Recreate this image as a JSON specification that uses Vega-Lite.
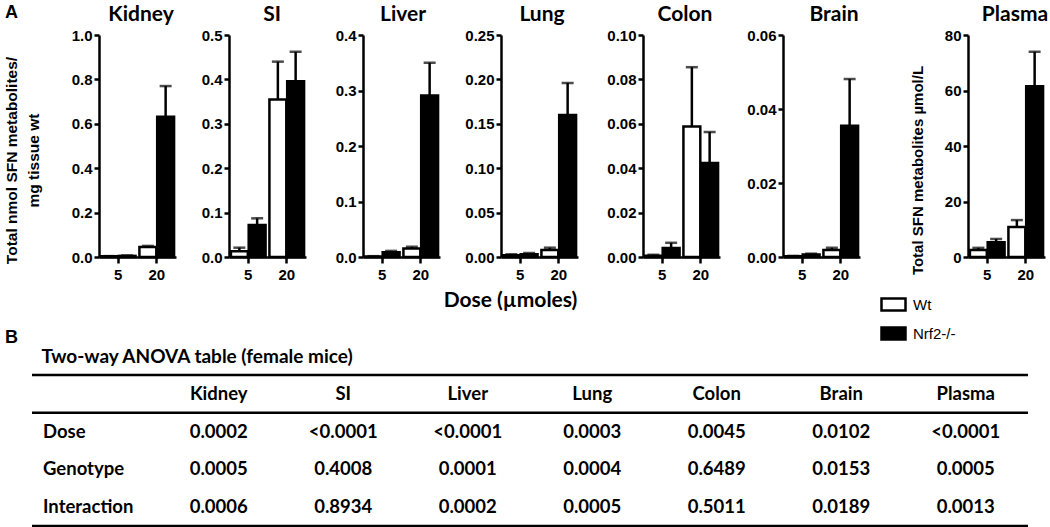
{
  "$schema": "https://vega.github.io/schema/vega-lite/v6.json",
  "background": "white",
  "padding": {"left": 4, "top": 4, "right": 0, "bottom": 0},
  "config": {
    "view": {"stroke": null},
    "axis": {"domainColor": "black", "domainWidth": 2.5, "tickColor": "black", "tickWidth": 2.5, "tickSize": 5, "labelColor": "black", "labelFont": "Liberation Sans", "labelFontWeight": "bold", "labelFontSize": 15, "labelPadding": 2, "grid": false, "titleColor": "black"},
    "title": {"font": "Lato", "fontWeight": "bold", "fontSize": 21, "color": "black"}
  },
  "datasets": {
    "bars": [
      {"organ": "Kidney", "dose": "5", "genotype": "Wt", "mean": 0.003, "hi": 0.004},
      {"organ": "Kidney", "dose": "5", "genotype": "Nrf2-/-", "mean": 0.005, "hi": 0.007},
      {"organ": "Kidney", "dose": "20", "genotype": "Wt", "mean": 0.045, "hi": 0.05},
      {"organ": "Kidney", "dose": "20", "genotype": "Nrf2-/-", "mean": 0.632, "hi": 0.77},
      {"organ": "SI", "dose": "5", "genotype": "Wt", "mean": 0.013, "hi": 0.021},
      {"organ": "SI", "dose": "5", "genotype": "Nrf2-/-", "mean": 0.072, "hi": 0.087},
      {"organ": "SI", "dose": "20", "genotype": "Wt", "mean": 0.355, "hi": 0.44},
      {"organ": "SI", "dose": "20", "genotype": "Nrf2-/-", "mean": 0.396, "hi": 0.462},
      {"organ": "Liver", "dose": "5", "genotype": "Wt", "mean": 0.001, "hi": 0.0015},
      {"organ": "Liver", "dose": "5", "genotype": "Nrf2-/-", "mean": 0.0085, "hi": 0.011},
      {"organ": "Liver", "dose": "20", "genotype": "Wt", "mean": 0.0155, "hi": 0.0185},
      {"organ": "Liver", "dose": "20", "genotype": "Nrf2-/-", "mean": 0.291, "hi": 0.35},
      {"organ": "Lung", "dose": "5", "genotype": "Wt", "mean": 0.002, "hi": 0.003},
      {"organ": "Lung", "dose": "5", "genotype": "Nrf2-/-", "mean": 0.003, "hi": 0.0045},
      {"organ": "Lung", "dose": "20", "genotype": "Wt", "mean": 0.008, "hi": 0.0105},
      {"organ": "Lung", "dose": "20", "genotype": "Nrf2-/-", "mean": 0.16, "hi": 0.196},
      {"organ": "Colon", "dose": "5", "genotype": "Wt", "mean": 0.0006, "hi": 0.001},
      {"organ": "Colon", "dose": "5", "genotype": "Nrf2-/-", "mean": 0.004, "hi": 0.0064},
      {"organ": "Colon", "dose": "20", "genotype": "Wt", "mean": 0.0588, "hi": 0.0855},
      {"organ": "Colon", "dose": "20", "genotype": "Nrf2-/-", "mean": 0.0423, "hi": 0.0563},
      {"organ": "Brain", "dose": "5", "genotype": "Wt", "mean": 0.0002, "hi": 0.0003},
      {"organ": "Brain", "dose": "5", "genotype": "Nrf2-/-", "mean": 0.0007, "hi": 0.0009},
      {"organ": "Brain", "dose": "20", "genotype": "Wt", "mean": 0.0019, "hi": 0.0025},
      {"organ": "Brain", "dose": "20", "genotype": "Nrf2-/-", "mean": 0.0355, "hi": 0.0481},
      {"organ": "Plasma", "dose": "5", "genotype": "Wt", "mean": 2.5, "hi": 3.3},
      {"organ": "Plasma", "dose": "5", "genotype": "Nrf2-/-", "mean": 5.3, "hi": 6.5},
      {"organ": "Plasma", "dose": "20", "genotype": "Wt", "mean": 10.8, "hi": 13.3},
      {"organ": "Plasma", "dose": "20", "genotype": "Nrf2-/-", "mean": 61.5, "hi": 74}
    ],
    "table": [
      {"row": "header", "col": "Kidney", "text": "Kidney"},
      {"row": "header", "col": "SI", "text": "SI"},
      {"row": "header", "col": "Liver", "text": "Liver"},
      {"row": "header", "col": "Lung", "text": "Lung"},
      {"row": "header", "col": "Colon", "text": "Colon"},
      {"row": "header", "col": "Brain", "text": "Brain"},
      {"row": "header", "col": "Plasma", "text": "Plasma"},
      {"row": "Dose", "col": "label", "text": "Dose"},
      {"row": "Dose", "col": "Kidney", "text": "0.0002"},
      {"row": "Dose", "col": "SI", "text": "<0.0001"},
      {"row": "Dose", "col": "Liver", "text": "<0.0001"},
      {"row": "Dose", "col": "Lung", "text": "0.0003"},
      {"row": "Dose", "col": "Colon", "text": "0.0045"},
      {"row": "Dose", "col": "Brain", "text": "0.0102"},
      {"row": "Dose", "col": "Plasma", "text": "<0.0001"},
      {"row": "Genotype", "col": "label", "text": "Genotype"},
      {"row": "Genotype", "col": "Kidney", "text": "0.0005"},
      {"row": "Genotype", "col": "SI", "text": "0.4008"},
      {"row": "Genotype", "col": "Liver", "text": "0.0001"},
      {"row": "Genotype", "col": "Lung", "text": "0.0004"},
      {"row": "Genotype", "col": "Colon", "text": "0.6489"},
      {"row": "Genotype", "col": "Brain", "text": "0.0153"},
      {"row": "Genotype", "col": "Plasma", "text": "0.0005"},
      {"row": "Interaction", "col": "label", "text": "Interaction"},
      {"row": "Interaction", "col": "Kidney", "text": "0.0006"},
      {"row": "Interaction", "col": "SI", "text": "0.8934"},
      {"row": "Interaction", "col": "Liver", "text": "0.0002"},
      {"row": "Interaction", "col": "Lung", "text": "0.0005"},
      {"row": "Interaction", "col": "Colon", "text": "0.5011"},
      {"row": "Interaction", "col": "Brain", "text": "0.0189"},
      {"row": "Interaction", "col": "Plasma", "text": "0.0013"}
    ]
  },
  "spacing": 340,
  "bounds": "flush",
  "vconcat": [
    {
      "spacing": 0,
      "bounds": "flush",
      "resolve": {"scale": {"fill": "independent"}, "legend": {"fill": "independent"}},
      "hconcat": [
        {
          "width": 67, "height": 222,
          "title": {"text": "A", "anchor": "start", "frame": "group", "dx": -27, "font": "Liberation Sans", "fontSize": 18, "baseline": "alphabetic", "offset": -1},
          "data": {"values": [{}]},
          "mark": {"type": "point", "opacity": 0},
          "encoding": {}
        },
        {
          "width": 130, "height": 222,
          "title": {"text": "Kidney", "anchor": "start", "align": "center", "frame": "group", "dx": 42, "baseline": "alphabetic", "offset": -14},
          "data": {"name": "bars"},
          "transform": [{"filter": "datum.organ === 'Kidney'"}],
          "encoding": {
            "x": {"field": "dose", "type": "ordinal", "sort": ["5", "20"], "scale": {"range": [0, 77], "paddingInner": 0.1, "paddingOuter": 0.05}, "axis": {"title": null, "labelAngle": 0, "tickSize": 6, "labelPadding": 4}},
            "xOffset": {"field": "genotype", "sort": ["Wt", "Nrf2-/-"], "scale": {"paddingInner": 0.05}}
          },
          "layer": [
            {"mark": {"type": "rule", "strokeWidth": 2.5, "color": "black"},
             "encoding": {"y": {"field": "mean", "type": "quantitative", "scale": {"domain": [0, 1], "nice": false}, "axis": {"values": [0, 0.2, 0.4, 0.6, 0.8, 1], "format": ".1f", "title": ["Total nmol SFN metabolites/", "mg tissue wt"], "titleFont": "Liberation Sans", "titleFontSize": 15.5, "titleFontWeight": "bold", "titleLineHeight": 22, "titlePadding": 30, "titleY": 125}}, "y2": {"field": "hi"}}},
            {"mark": {"type": "tick", "orient": "horizontal", "size": 12, "thickness": 2.5, "color": "black"},
             "encoding": {"y": {"field": "hi", "type": "quantitative", "axis": {"values": [0, 0.2, 0.4, 0.6, 0.8, 1], "format": ".1f", "title": ["Total nmol SFN metabolites/", "mg tissue wt"], "titleFont": "Liberation Sans", "titleFontSize": 15.5, "titleFontWeight": "bold", "titleLineHeight": 22, "titlePadding": 30, "titleY": 125}}}},
            {"mark": {"type": "bar", "stroke": "black", "strokeWidth": 2.5},
             "encoding": {"y": {"field": "mean", "type": "quantitative", "axis": {"values": [0, 0.2, 0.4, 0.6, 0.8, 1], "format": ".1f", "title": ["Total nmol SFN metabolites/", "mg tissue wt"], "titleFont": "Liberation Sans", "titleFontSize": 15.5, "titleFontWeight": "bold", "titleLineHeight": 22, "titlePadding": 30, "titleY": 125}},
               "fill": {"field": "genotype", "type": "nominal", "scale": {"domain": ["Wt", "Nrf2-/-"], "range": ["white", "black"]}, "legend": null}}}
          ]
        },
        {
          "width": 134, "height": 222,
          "title": {"text": "SI", "anchor": "start", "align": "center", "frame": "group", "dx": 43, "baseline": "alphabetic", "offset": -14},
          "data": {"name": "bars"},
          "transform": [{"filter": "datum.organ === 'SI'"}],
          "encoding": {
            "x": {"field": "dose", "type": "ordinal", "sort": ["5", "20"], "scale": {"range": [0, 77], "paddingInner": 0.1, "paddingOuter": 0.05}, "axis": {"title": null, "labelAngle": 0, "tickSize": 6, "labelPadding": 4}},
            "xOffset": {"field": "genotype", "sort": ["Wt", "Nrf2-/-"], "scale": {"paddingInner": 0.05}}
          },
          "layer": [
            {"mark": {"type": "rule", "strokeWidth": 2.5, "color": "black"},
             "encoding": {"y": {"field": "mean", "type": "quantitative", "scale": {"domain": [0, 0.5], "nice": false}, "axis": {"values": [0, 0.1, 0.2, 0.3, 0.4, 0.5], "format": ".1f", "title": null}}, "y2": {"field": "hi"}}},
            {"mark": {"type": "tick", "orient": "horizontal", "size": 12, "thickness": 2.5, "color": "black"},
             "encoding": {"y": {"field": "hi", "type": "quantitative", "axis": {"values": [0, 0.1, 0.2, 0.3, 0.4, 0.5], "format": ".1f", "title": null}}}},
            {"mark": {"type": "bar", "stroke": "black", "strokeWidth": 2.5},
             "encoding": {"y": {"field": "mean", "type": "quantitative", "axis": {"values": [0, 0.1, 0.2, 0.3, 0.4, 0.5], "format": ".1f", "title": null}},
               "fill": {"field": "genotype", "type": "nominal", "scale": {"domain": ["Wt", "Nrf2-/-"], "range": ["white", "black"]}, "legend": null}}}
          ]
        },
        {
          "width": 138, "height": 222,
          "title": {"text": "Liver", "anchor": "start", "align": "center", "frame": "group", "dx": 40, "baseline": "alphabetic", "offset": -14},
          "data": {"name": "bars"},
          "transform": [{"filter": "datum.organ === 'Liver'"}],
          "encoding": {
            "x": {"field": "dose", "type": "ordinal", "sort": ["5", "20"], "scale": {"range": [0, 77], "paddingInner": 0.1, "paddingOuter": 0.05}, "axis": {"title": null, "labelAngle": 0, "tickSize": 6, "labelPadding": 4}},
            "xOffset": {"field": "genotype", "sort": ["Wt", "Nrf2-/-"], "scale": {"paddingInner": 0.05}}
          },
          "layer": [
            {"mark": {"type": "rule", "strokeWidth": 2.5, "color": "black"},
             "encoding": {"y": {"field": "mean", "type": "quantitative", "scale": {"domain": [0, 0.4], "nice": false}, "axis": {"values": [0, 0.1, 0.2, 0.3, 0.4], "format": ".1f", "title": null}}, "y2": {"field": "hi"}}},
            {"mark": {"type": "tick", "orient": "horizontal", "size": 12, "thickness": 2.5, "color": "black"},
             "encoding": {"y": {"field": "hi", "type": "quantitative", "axis": {"values": [0, 0.1, 0.2, 0.3, 0.4], "format": ".1f", "title": null}}}},
            {"mark": {"type": "bar", "stroke": "black", "strokeWidth": 2.5},
             "encoding": {"y": {"field": "mean", "type": "quantitative", "axis": {"values": [0, 0.1, 0.2, 0.3, 0.4], "format": ".1f", "title": null}},
               "fill": {"field": "genotype", "type": "nominal", "scale": {"domain": ["Wt", "Nrf2-/-"], "range": ["white", "black"]}, "legend": null}}}
          ]
        },
        {
          "width": 142, "height": 222,
          "title": {"text": "Lung", "anchor": "start", "align": "center", "frame": "group", "dx": 41, "baseline": "alphabetic", "offset": -14},
          "data": {"name": "bars"},
          "transform": [{"filter": "datum.organ === 'Lung'"}],
          "encoding": {
            "x": {"field": "dose", "type": "ordinal", "sort": ["5", "20"], "scale": {"range": [0, 77], "paddingInner": 0.1, "paddingOuter": 0.05}, "axis": {"title": "Dose (\u00b5moles)", "titleFont": "Lato", "titleFontSize": 21, "titleFontWeight": "bold", "titleX": 9, "titleY": 43, "titleBaseline": "middle", "titleAlign": "center", "labelAngle": 0, "tickSize": 6, "labelPadding": 4}},
            "xOffset": {"field": "genotype", "sort": ["Wt", "Nrf2-/-"], "scale": {"paddingInner": 0.05}}
          },
          "layer": [
            {"mark": {"type": "rule", "strokeWidth": 2.5, "color": "black"},
             "encoding": {"y": {"field": "mean", "type": "quantitative", "scale": {"domain": [0, 0.25], "nice": false}, "axis": {"values": [0, 0.05, 0.1, 0.15, 0.2, 0.25], "format": ".2f", "title": null}}, "y2": {"field": "hi"}}},
            {"mark": {"type": "tick", "orient": "horizontal", "size": 12, "thickness": 2.5, "color": "black"},
             "encoding": {"y": {"field": "hi", "type": "quantitative", "axis": {"values": [0, 0.05, 0.1, 0.15, 0.2, 0.25], "format": ".2f", "title": null}}}},
            {"mark": {"type": "bar", "stroke": "black", "strokeWidth": 2.5},
             "encoding": {"y": {"field": "mean", "type": "quantitative", "axis": {"values": [0, 0.05, 0.1, 0.15, 0.2, 0.25], "format": ".2f", "title": null}},
               "fill": {"field": "genotype", "type": "nominal", "scale": {"domain": ["Wt", "Nrf2-/-"], "range": ["white", "black"]}, "legend": null}}}
          ]
        },
        {
          "width": 140, "height": 222,
          "title": {"text": "Colon", "anchor": "start", "align": "center", "frame": "group", "dx": 42, "baseline": "alphabetic", "offset": -14},
          "data": {"name": "bars"},
          "transform": [{"filter": "datum.organ === 'Colon'"}],
          "encoding": {
            "x": {"field": "dose", "type": "ordinal", "sort": ["5", "20"], "scale": {"range": [0, 77], "paddingInner": 0.1, "paddingOuter": 0.05}, "axis": {"title": null, "labelAngle": 0, "tickSize": 6, "labelPadding": 4}},
            "xOffset": {"field": "genotype", "sort": ["Wt", "Nrf2-/-"], "scale": {"paddingInner": 0.05}}
          },
          "layer": [
            {"mark": {"type": "rule", "strokeWidth": 2.5, "color": "black"},
             "encoding": {"y": {"field": "mean", "type": "quantitative", "scale": {"domain": [0, 0.1], "nice": false}, "axis": {"values": [0, 0.02, 0.04, 0.06, 0.08, 0.1], "format": ".2f", "title": null}}, "y2": {"field": "hi"}}},
            {"mark": {"type": "tick", "orient": "horizontal", "size": 12, "thickness": 2.5, "color": "black"},
             "encoding": {"y": {"field": "hi", "type": "quantitative", "axis": {"values": [0, 0.02, 0.04, 0.06, 0.08, 0.1], "format": ".2f", "title": null}}}},
            {"mark": {"type": "bar", "stroke": "black", "strokeWidth": 2.5},
             "encoding": {"y": {"field": "mean", "type": "quantitative", "axis": {"values": [0, 0.02, 0.04, 0.06, 0.08, 0.1], "format": ".2f", "title": null}},
               "fill": {"field": "genotype", "type": "nominal", "scale": {"domain": ["Wt", "Nrf2-/-"], "range": ["white", "black"]}, "legend": null}}}
          ]
        },
        {
          "width": 185, "height": 222,
          "title": {"text": "Brain", "anchor": "start", "align": "center", "frame": "group", "dx": 51, "baseline": "alphabetic", "offset": -14},
          "data": {"name": "bars"},
          "transform": [{"filter": "datum.organ === 'Brain'"}],
          "encoding": {
            "x": {"field": "dose", "type": "ordinal", "sort": ["5", "20"], "scale": {"range": [0, 77], "paddingInner": 0.1, "paddingOuter": 0.05}, "axis": {"title": null, "labelAngle": 0, "tickSize": 6, "labelPadding": 4}},
            "xOffset": {"field": "genotype", "sort": ["Wt", "Nrf2-/-"], "scale": {"paddingInner": 0.05}}
          },
          "layer": [
            {"mark": {"type": "rule", "strokeWidth": 2.5, "color": "black"},
             "encoding": {"y": {"field": "mean", "type": "quantitative", "scale": {"domain": [0, 0.06], "nice": false}, "axis": {"values": [0, 0.02, 0.04, 0.06], "format": ".2f", "title": null}}, "y2": {"field": "hi"}}},
            {"mark": {"type": "tick", "orient": "horizontal", "size": 12, "thickness": 2.5, "color": "black"},
             "encoding": {"y": {"field": "hi", "type": "quantitative", "axis": {"values": [0, 0.02, 0.04, 0.06], "format": ".2f", "title": null}}}},
            {"mark": {"type": "bar", "stroke": "black", "strokeWidth": 2.5},
             "encoding": {"y": {"field": "mean", "type": "quantitative", "axis": {"values": [0, 0.02, 0.04, 0.06], "format": ".2f", "title": null}},
               "fill": {"field": "genotype", "type": "nominal", "scale": {"domain": ["Wt", "Nrf2-/-"], "range": ["white", "black"]}, "legend": null}}}
          ]
        },
        {
          "width": 83, "height": 222,
          "title": {"text": "Plasma", "anchor": "start", "align": "center", "frame": "group", "dx": 47, "baseline": "alphabetic", "offset": -14},
          "data": {"name": "bars"},
          "transform": [{"filter": "datum.organ === 'Plasma'"}],
          "encoding": {
            "x": {"field": "dose", "type": "ordinal", "sort": ["5", "20"], "scale": {"range": [0, 77], "paddingInner": 0.1, "paddingOuter": 0.05}, "axis": {"title": null, "labelAngle": 0, "tickSize": 6, "labelPadding": 4}},
            "xOffset": {"field": "genotype", "sort": ["Wt", "Nrf2-/-"], "scale": {"paddingInner": 0.05}}
          },
          "layer": [
            {"mark": {"type": "rule", "strokeWidth": 2.5, "color": "black"},
             "encoding": {"y": {"field": "mean", "type": "quantitative", "scale": {"domain": [0, 80], "nice": false}, "axis": {"values": [0, 20, 40, 60, 80], "format": "d", "title": "Total SFN metabolites \u00b5mol/L", "titleFont": "Liberation Sans", "titleFontSize": 15, "titleFontWeight": "bold", "titlePadding": 19, "titleY": 135}}, "y2": {"field": "hi"}}},
            {"mark": {"type": "tick", "orient": "horizontal", "size": 12, "thickness": 2.5, "color": "black"},
             "encoding": {"y": {"field": "hi", "type": "quantitative", "axis": {"values": [0, 20, 40, 60, 80], "format": "d", "title": "Total SFN metabolites \u00b5mol/L", "titleFont": "Liberation Sans", "titleFontSize": 15, "titleFontWeight": "bold", "titlePadding": 19, "titleY": 135}}}},
            {"mark": {"type": "bar", "stroke": "black", "strokeWidth": 2.5},
             "encoding": {"y": {"field": "mean", "type": "quantitative", "axis": {"values": [0, 20, 40, 60, 80], "format": "d", "title": "Total SFN metabolites \u00b5mol/L", "titleFont": "Liberation Sans", "titleFontSize": 15, "titleFontWeight": "bold", "titlePadding": 19, "titleY": 135}},
               "fill": {"field": "genotype", "type": "nominal", "scale": {"domain": ["Wt", "Nrf2-/-"], "range": ["white", "black"]},
                 "legend": {"orient": "none", "legendX": -88, "legendY": 256, "title": null, "padding": 0, "symbolType": "M-1,-0.5H1V0.5H-1Z", "symbolSize": 576, "symbolStrokeColor": "black", "symbolStrokeWidth": 2.5, "labelFont": "Liberation Sans", "labelFontSize": 15, "labelColor": "black", "labelOffset": 6, "rowPadding": 4}}}}
          ]
        }
      ]
    },
    {
      "width": 996, "height": 151,
      "title": {"text": "B", "anchor": "start", "frame": "group", "dx": -27, "font": "Liberation Sans", "fontSize": 18, "baseline": "alphabetic", "offset": -14},
      "layer": [
        {
          "data": {"values": [{"row": "header"}, {"row": "Dose"}]},
          "mark": {"type": "rule", "strokeWidth": 2.5, "color": "black"},
          "encoding": {"y": {"field": "row", "type": "ordinal", "bandPosition": 0, "scale": {"type": "band", "domain": ["header", "Dose", "Genotype", "Interaction"], "paddingInner": 0, "paddingOuter": 0}, "axis": null}}
        },
        {
          "data": {"values": [{"row": "Interaction"}]},
          "mark": {"type": "rule", "strokeWidth": 2.5, "color": "black"},
          "encoding": {"y": {"field": "row", "type": "ordinal", "bandPosition": 1, "scale": {"type": "band", "domain": ["header", "Dose", "Genotype", "Interaction"], "paddingInner": 0, "paddingOuter": 0}, "axis": null}}
        },
        {
          "data": {"name": "table"},
          "transform": [{"filter": "datum.col === 'label'"}],
          "mark": {"type": "text", "align": "left", "baseline": "middle", "dx": 11, "font": "Lato", "fontWeight": "bold", "fontSize": 18.5, "color": "black"},
          "encoding": {
            "x": {"field": "col", "type": "ordinal", "bandPosition": 0, "scale": {"type": "band", "domain": ["label", "Kidney", "SI", "Liver", "Lung", "Colon", "Brain", "Plasma"], "paddingInner": 0, "paddingOuter": 0}, "axis": {"orient": "top", "labels": false, "ticks": false, "domain": false, "title": "Two-way ANOVA table (female mice)", "titleFont": "Lato", "titleFontSize": 19, "titleFontWeight": "bold", "titleAnchor": "start", "titleAlign": "left", "titleX": 9, "titleY": -13, "titleBaseline": "alphabetic"}},
            "y": {"field": "row", "type": "ordinal", "scale": {"type": "band", "domain": ["header", "Dose", "Genotype", "Interaction"], "paddingInner": 0, "paddingOuter": 0}, "axis": null},
            "text": {"field": "text"}
          }
        },
        {
          "data": {"name": "table"},
          "transform": [{"filter": "datum.col !== 'label'"}],
          "mark": {"type": "text", "align": "center", "baseline": "middle", "font": "Lato", "fontWeight": "bold", "fontSize": 18.5, "color": "black"},
          "encoding": {
            "x": {"field": "col", "type": "ordinal", "scale": {"type": "band", "domain": ["label", "Kidney", "SI", "Liver", "Lung", "Colon", "Brain", "Plasma"], "paddingInner": 0, "paddingOuter": 0}, "axis": {"orient": "top", "labels": false, "ticks": false, "domain": false, "title": "Two-way ANOVA table (female mice)", "titleFont": "Lato", "titleFontSize": 19, "titleFontWeight": "bold", "titleAnchor": "start", "titleAlign": "left", "titleX": 9, "titleY": -13, "titleBaseline": "alphabetic"}},
            "y": {"field": "row", "type": "ordinal", "scale": {"type": "band", "domain": ["header", "Dose", "Genotype", "Interaction"], "paddingInner": 0, "paddingOuter": 0}, "axis": null},
            "text": {"field": "text"}
          }
        }
      ]
    }
  ]
}
